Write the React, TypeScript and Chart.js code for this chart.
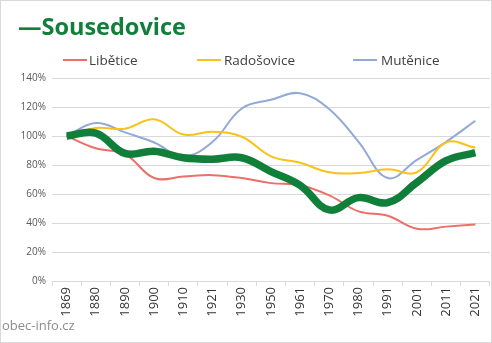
import React, { useEffect, useRef } from "react";
import { Chart, registerables } from "chart.js";

Chart.register(...registerables);

const years = ["1869", "1880", "1890", "1900", "1910", "1921", "1930", "1950", "1961", "1970", "1980", "1991", "2001", "2011", "2021"];
const sousedovice = [100, 102, 88, 89.5, 85, 84, 85, 75.5, 66, 49, 57.5, 54, 68, 83, 88.5];
const libetice = [100, 91.5, 87.5, 71, 72, 73, 71, 67.5, 66, 59, 48, 45, 36, 37.5, 39];
const radosovice = [100, 105.5, 105, 111.5, 101, 103, 99.5, 86, 81.5, 75, 74.5, 77, 75, 95.5, 92];
const mutenice = [100, 109, 102.5, 95.5, 86, 96, 119, 125, 129.5, 118.5, 96, 71, 83.5, 96, 110.5];
const yTicks = [0, 20, 40, 60, 80, 100, 120, 140];

const GREEN = "#0f7f3a";
const RED = "#ec6f6a";
const YELLOW = "#f8c21d";
const BLUE = "#92aad5";
const FONT = "'Open Sans', 'Liberation Sans', sans-serif";

export default function App() {
  const ref = useRef<HTMLCanvasElement | null>(null);

  useEffect(() => {
    document.body.style.margin = "0";
    const ctx = ref.current!.getContext("2d")!;
    const mk = (label: string, data: number[], color: string, width: number) => ({
      label,
      data,
      borderColor: color,
      backgroundColor: color,
      borderWidth: width,
      pointRadius: 0,
      tension: 0.4,
      fill: false,
    });
    const chart = new Chart(ctx, {
      type: "line",
      data: {
        labels: years,
        datasets: [
          mk("Sousedovice", sousedovice, GREEN, 7.5),
          mk("Libětice", libetice, RED, 2),
          mk("Radošovice", radosovice, YELLOW, 2),
          mk("Mutěnice", mutenice, BLUE, 2),
        ],
      },
      options: {
        animation: false,
        responsive: false,
        maintainAspectRatio: false,
        layout: { padding: { top: 78, right: 2, left: 0, bottom: 0 } },
        plugins: {
          legend: { display: false },
          title: { display: false },
          tooltip: { enabled: false },
        },
        scales: {
          x: {
            offset: true,
            grid: {
              offset: true,
              drawOnChartArea: false,
              drawTicks: true,
              tickLength: 5,
              color: "#d9d9d9",
            },
            border: { display: true, color: "#d9d9d9" },
            ticks: {
              minRotation: 90,
              maxRotation: 90,
              autoSkip: false,
              color: "#333333",
              padding: 1,
              font: { family: FONT, size: 13 },
            },
            afterFit: (s: any) => {
              s.height = 343 - 281;
            },
          },
          y: {
            min: 0,
            max: 140,
            afterBuildTicks: (s: any) => {
              s.ticks = yTicks.map((v) => ({ value: v }));
            },
            grid: { color: "#d9d9d9", drawTicks: false },
            border: { display: false },
            ticks: {
              color: "#595959",
              padding: 6,
              font: { family: FONT, size: 10 },
              callback: (v: any) => v + "%",
            },
            afterFit: (s: any) => {
              s.width = 52;
            },
          },
        },
      },
    });
    return () => chart.destroy();
  }, []);

  const legendItem = (lineX: number, textX: number, color: string, text: string) => (
    <>
      <div style={{ position: "absolute", left: lineX, top: 59, width: 24, height: 2, background: color }} />
      <div style={{ position: "absolute", left: textX, top: 51, fontSize: 13.5, color: "#404040", fontFamily: FONT, lineHeight: "18px", whiteSpace: "nowrap" }}>{text}</div>
    </>
  );

  return (
    <div style={{ position: "fixed", left: 0, top: 0, width: 492, height: 343, background: "#fff", overflow: "hidden" }}>
      <canvas ref={ref} width={492} height={343} style={{ position: "absolute", left: 0, top: 0, width: 492, height: 343 }} />
      <div style={{ position: "absolute", left: 18, top: 11, fontSize: 23.5, fontWeight: "bold", color: GREEN, fontFamily: FONT, lineHeight: "30px", whiteSpace: "nowrap" }}>—Sousedovice</div>
      {legendItem(63, 89, RED, "Libětice")}
      {legendItem(197, 224, YELLOW, "Radošovice")}
      {legendItem(353, 381, BLUE, "Mutěnice")}
      <div style={{ position: "absolute", left: 2, top: 316, fontSize: 13, color: "#8c8c8c", fontFamily: FONT, lineHeight: "18px" }}>obec-info.cz</div>
      <div style={{ position: "absolute", left: 0, top: 0, width: 490, height: 341, border: "1px solid #d9d9d9", pointerEvents: "none" }} />
    </div>
  );
}
